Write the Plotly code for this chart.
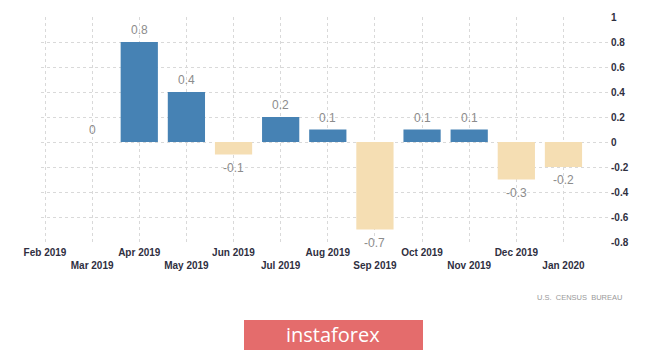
import plotly.graph_objects as go

months = ["Feb 2019", "Mar 2019", "Apr 2019", "May 2019", "Jun 2019", "Jul 2019",
          "Aug 2019", "Sep 2019", "Oct 2019", "Nov 2019", "Dec 2019", "Jan 2020"]
bar_months = months[1:]
values = [0, 0.8, 0.4, -0.1, 0.2, 0.1, -0.7, 0.1, 0.1, -0.3, -0.2]
labels = ["0", "0.8", "0.4", "-0.1", "0.2", "0.1", "-0.7", "0.1", "0.1", "-0.3", "-0.2"]
y_ticks = [1, 0.8, 0.6, 0.4, 0.2, 0, -0.2, -0.4, -0.6, -0.8]
y_tick_text = ["1", "0.8", "0.6", "0.4", "0.2", "0", "-0.2", "-0.4", "-0.6", "-0.8"]

BLUE = "#4682b4"
TAN = "#f5deb3"

idx = {m: i for i, m in enumerate(months)}
bx = [idx[m] for m in bar_months]
colors = [BLUE if v >= 0 else TAN for v in values]

# plot area in pixels
L, R, T, B = 41, 608, 17, 242
PW, PH = R - L, B - T

fig = go.Figure()
fig.add_trace(go.Bar(x=bx, y=values, marker=dict(color=colors, line=dict(width=0)),
                     width=0.79, hoverinfo="skip"))

annotations = []
for x, v, t in zip(bx, values, labels):
    annotations.append(dict(
        x=x, y=v, xref="x", yref="y", text=t, showarrow=False,
        yshift=12 if v >= 0 else -13, xanchor="center", yanchor="middle",
        font=dict(family="Arial", size=12, color="#8c8c8c")))

tick_text = [m if i % 2 == 0 else "<br>" + m for i, m in enumerate(months)]

annotations += [
    dict(text="U.S.  CENSUS  BUREAU", xref="paper", yref="paper",
         x=(624 - L) / PW, y=(B - 297) / PH, xanchor="right", yanchor="middle",
         showarrow=False, font=dict(family="Arial", size=7.5, color="#9a9a9a")),
    dict(text="instaforex", xref="paper", yref="paper",
         x=(333 - L) / PW, y=(B - 334) / PH, xanchor="center", yanchor="middle",
         showarrow=False, font=dict(family="Open Sans", size=20, color="white")),
]

fig.update_layout(
    width=665, height=351,
    margin=dict(l=L, r=665 - R, t=T, b=351 - B),
    plot_bgcolor="white", paper_bgcolor="white",
    showlegend=False,
    xaxis=dict(range=[-0.085, 11.945], tickmode="array", tickvals=list(range(12)),
               ticktext=tick_text, showgrid=True, gridcolor="#d9d9d9", griddash="dot",
               gridwidth=1, zeroline=False, showline=False, ticks="",
               tickfont=dict(family="Arial", size=10, color="#2f2f3f", weight="bold"),
               tickangle=0, ticklabelstandoff=3, fixedrange=True),
    yaxis=dict(range=[-0.8, 1.0], side="right", tickmode="array", tickvals=y_ticks,
               ticktext=y_tick_text, showgrid=True, gridcolor="#d9d9d9", griddash="dot",
               gridwidth=1, zeroline=False, showline=False, ticks="",
               tickfont=dict(family="Arial", size=10, color="#2f2f3f", weight="bold"),
               ticklabelstandoff=2, fixedrange=True),
    shapes=[dict(type="rect", xref="paper", yref="paper",
                 x0=(244 - L) / PW, x1=(423 - L) / PW,
                 y0=(B - 350) / PH, y1=(B - 320) / PH,
                 fillcolor="#e46c6c", line=dict(width=0), layer="above")],
    annotations=annotations,
)

fig.write_html("out.html")
